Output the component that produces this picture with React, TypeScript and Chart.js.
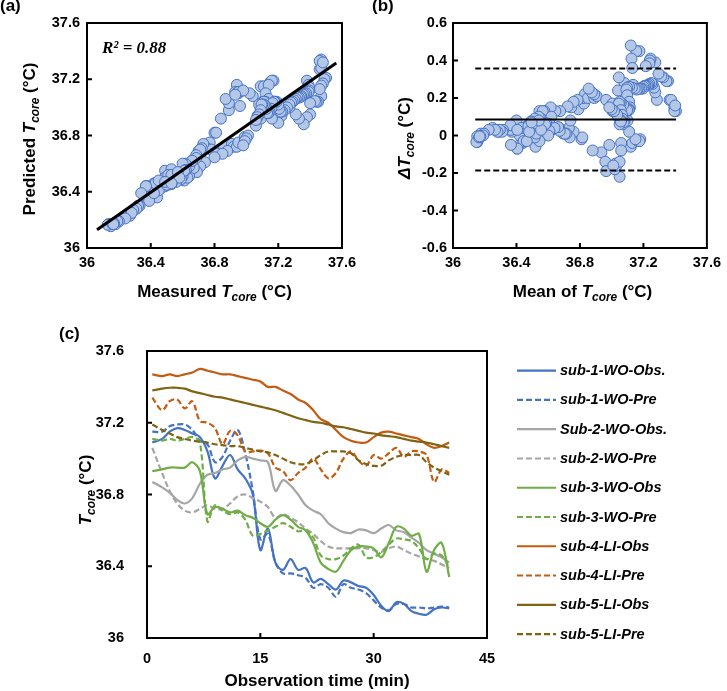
import React, { useEffect, useRef } from "react";
import { Chart, registerables } from "chart.js";

Chart.register(...registerables);

// ---------- data ----------
const minutes = [0.7, 2, 3, 4, 5, 6, 7, 8, 9, 10, 11, 12, 13, 14, 15, 16, 17, 18, 19, 20, 21, 22, 23, 24, 25, 26, 27, 28, 29, 30, 31, 32, 33, 34, 35, 36, 37, 38, 39, 40];

const sub1Obs = [37.09, 37.11, 37.15, 37.17, 37.16, 37.14, 37.12, 37.04, 36.89, 36.96, 37.02, 36.94, 36.89, 36.8, 36.49, 36.61, 36.42, 36.38, 36.44, 36.38, 36.39, 36.31, 36.33, 36.3, 36.27, 36.32, 36.31, 36.29, 36.28, 36.24, 36.18, 36.15, 36.2, 36.19, 36.15, 36.135, 36.13, 36.16, 36.17, 36.165];
const sub1Pre = [37.15, 37.15, 37.18, 37.19, 37.19, 37.16, 37.1, 37.08, 36.98, 37.01, 37.1, 37.16, 37.03, 36.82, 36.55, 36.58, 36.42, 36.36, 36.36, 36.35, 36.335, 36.28, 36.3, 36.28, 36.23, 36.3, 36.28, 36.27, 36.25, 36.21, 36.17, 36.155, 36.19, 36.19, 36.17, 36.17, 36.165, 36.17, 36.175, 36.17];
const sub2Obs = [36.87, 36.84, 36.81, 36.77, 36.75, 36.78, 36.86, 36.91, 36.92, 36.94, 36.95, 36.99, 37.01, 37.0, 36.99, 36.98, 36.82, 36.88, 36.85, 36.8, 36.74, 36.71, 36.69, 36.64, 36.61, 36.59, 36.585, 36.605, 36.6, 36.585, 36.61, 36.63, 36.6, 36.59, 36.56, 36.53, 36.49, 36.47, 36.45, 36.42];
const sub2Pre = [37.06, 36.92, 36.82, 36.75, 36.71, 36.7, 36.72, 36.74, 36.72, 36.72, 36.75, 36.79, 36.8, 36.78, 36.76, 36.73, 36.67, 36.69, 36.67, 36.645, 36.61, 36.58, 36.54, 36.51, 36.5, 36.5, 36.5, 36.5, 36.5, 36.49, 36.48, 36.5, 36.51, 36.49, 36.47, 36.455, 36.44, 36.43, 36.41, 36.39];
const sub3Obs = [36.93, 36.94, 36.95, 36.95, 36.95, 36.98, 36.93, 36.69, 36.73, 36.72, 36.7, 36.71, 36.685, 36.67, 36.64, 36.62, 36.66, 36.685, 36.66, 36.62, 36.6, 36.53, 36.42, 36.385, 36.37, 36.43, 36.49, 36.51, 36.51, 36.5, 36.45, 36.53, 36.62, 36.61, 36.57, 36.58, 36.37, 36.49, 36.53, 36.34];
const sub3Pre = [37.11, 37.1, 37.11, 37.1, 37.11, 37.12, 37.09, 36.65, 36.74, 36.71, 36.69, 36.7, 36.66, 36.57, 36.58, 36.6, 36.62, 36.64, 36.62, 36.595, 36.6, 36.56, 36.46, 36.44, 36.44, 36.46, 36.5, 36.52, 36.45, 36.45, 36.48, 36.52, 36.555, 36.55, 36.54, 36.5, 36.44, 36.47, 36.46, 36.39];
const sub4Obs = [37.47, 37.46, 37.47, 37.46, 37.47, 37.48, 37.5, 37.49, 37.48, 37.47, 37.47, 37.46, 37.45, 37.44, 37.43, 37.4, 37.4, 37.38, 37.36, 37.33, 37.31, 37.27, 37.22, 37.2, 37.16, 37.12, 37.1, 37.09, 37.09, 37.12, 37.145, 37.15, 37.14, 37.13, 37.12, 37.11, 37.08, 37.06, 37.07, 37.09];
const sub4Pre = [37.34, 37.27, 37.32, 37.33, 37.28, 37.32, 37.21, 37.2, 37.17, 37.08, 37.155, 37.13, 37.04, 37.04, 37.045, 37.03, 36.95, 36.93, 36.88, 36.92, 36.95, 37.0, 36.94, 36.89, 36.92, 37.0, 37.04, 36.99, 36.96, 37.02, 37.0, 37.03, 37.06, 37.01, 37.04, 37.04, 37.02, 36.87, 36.94, 36.92];
const sub5Obs = [37.38, 37.39, 37.395, 37.395, 37.39, 37.375, 37.365, 37.355, 37.345, 37.34, 37.33, 37.32, 37.31, 37.3, 37.29, 37.28, 37.27, 37.255, 37.24, 37.225, 37.215, 37.205, 37.2, 37.19, 37.18, 37.175, 37.165, 37.155, 37.145, 37.14, 37.13, 37.125, 37.12, 37.11, 37.1, 37.095, 37.09, 37.08, 37.07, 37.06];
const sub5Pre = [37.19, 37.16, 37.14, 37.12, 37.11, 37.1, 37.095, 37.09, 37.08, 37.075, 37.07, 37.07, 37.06, 37.05, 37.04, 37.035, 37.02, 37.0, 36.98, 36.97, 36.97, 36.99, 37.02, 37.04, 37.04, 37.04, 37.03, 36.99, 36.97, 36.96, 36.96, 36.99, 37.01, 37.02, 37.02, 37.02, 36.98, 36.95, 36.93, 36.91];

const seriesLabels = ["sub-1-WO-Obs.", "sub-1-WO-Pre", "Sub-2-WO-Obs.", "sub-2-WO-Pre", "sub-3-WO-Obs", "sub-3-WO-Pre", "sub-4-LI-Obs", "sub-4-LI-Pre", "sub-5-LI-Obs", "sub-5-LI-Pre"];
const seriesValues = [sub1Obs, sub1Pre, sub2Obs, sub2Pre, sub3Obs, sub3Pre, sub4Obs, sub4Pre, sub5Obs, sub5Pre];
const observedSeries = [sub1Obs, sub2Obs, sub3Obs, sub4Obs, sub5Obs];
const predictedSeries = [sub1Pre, sub2Pre, sub3Pre, sub4Pre, sub5Pre];

const tempTicks = [36, 36.4, 36.8, 37.2, 37.6];
const diffTicks = [-0.6, -0.4, -0.2, 0, 0.2, 0.4, 0.6];
const timeTicks = [0, 15, 30, 45];

const fitLineX = [36.063, 37.564];
const fitLineY = [36.13, 37.316];
const r2Text = "R² = 0.88";

const biasMean = 0.085;
const loaUpper = 0.357;
const loaLower = -0.187;
const blandSpanX = [36.14, 37.406];

// ---------- styles ----------
const SANS = '"Liberation Sans", Arial, Helvetica, sans-serif';
const SERIF = '"Liberation Serif", "Times New Roman", serif';
const PT_FILL = "#B4C7E7";
const PT_EDGE = "#4472C4";
const seriesColors = ["#4472C4", "#4472C4", "#A5A5A5", "#A5A5A5", "#70AD47", "#70AD47", "#C55A11", "#C55A11", "#7F6311", "#7F6311"];
const seriesDashed = [false, true, false, true, false, true, false, true, false, true];
const DASH = [6, 3];

type Run = { t: string; it?: boolean; sub?: boolean };

function drawRich(ctx: any, runs: Run[], x: number, y: number, size: number, rotate = false) {
  ctx.save();
  ctx.translate(x, y);
  if (rotate) ctx.rotate(-Math.PI / 2);
  const subSize = size * 0.7;
  const font = (r: Run) => `${r.it ? "italic " : ""}bold ${r.sub ? subSize : size}px ${SANS}`;
  const widths = runs.map((r) => {
    ctx.font = font(r);
    return ctx.measureText(r.t).width;
  });
  const total = widths.reduce((a, b) => a + b, 0);
  let cx = -total / 2;
  ctx.fillStyle = "#000";
  ctx.textAlign = "left";
  ctx.textBaseline = "alphabetic";
  runs.forEach((r, i) => {
    ctx.font = font(r);
    ctx.fillText(r.t, cx, r.sub ? size * 0.24 : 0);
    cx += widths[i];
  });
  ctx.restore();
}

function plainText(ctx: any, text: string, x: number, y: number, font: string) {
  ctx.save();
  ctx.font = font;
  ctx.fillStyle = "#000";
  ctx.textAlign = "left";
  ctx.textBaseline = "alphabetic";
  ctx.fillText(text, x, y);
  ctx.restore();
}

function decor(drawExtra: (ctx: any, chart: any) => void) {
  return {
    id: "decor",
    afterDraw(chart: any) {
      const { ctx, chartArea: a } = chart;
      const xs = chart.scales.x;
      const ys = chart.scales.y;
      ctx.save();
      ctx.strokeStyle = "#000";
      ctx.lineWidth = 2;
      ctx.setLineDash([]);
      ctx.beginPath();
      xs.ticks.forEach((t: any) => {
        const p = xs.getPixelForValue(t.value);
        if (p > a.left + 1 && p < a.right - 1) {
          ctx.moveTo(p, a.bottom);
          ctx.lineTo(p, a.bottom - 5);
        }
      });
      ys.ticks.forEach((t: any) => {
        const p = ys.getPixelForValue(t.value);
        if (p > a.top + 1 && p < a.bottom - 1) {
          ctx.moveTo(a.left, p);
          ctx.lineTo(a.left + 5, p);
        }
      });
      ctx.stroke();
      ctx.strokeRect(a.left, a.top, a.right - a.left, a.bottom - a.top);
      ctx.restore();
      drawExtra(ctx, chart);
    },
  };
}

const fmt = (v: any) => String(Math.round(Number(v) * 10) / 10);

function axis(min: number, max: number, tickValues: number[], padding: number, fitSize: number, isX: boolean) {
  return {
    type: "linear",
    min,
    max,
    afterBuildTicks: (s: any) => {
      s.ticks = tickValues.map((v) => ({ value: v }));
    },
    afterFit: (s: any) => {
      if (isX) s.height = fitSize;
      else s.width = fitSize;
    },
    grid: { display: false, drawTicks: false },
    border: { display: false },
    ticks: {
      color: "#000",
      padding,
      autoSkip: false,
      maxRotation: 0,
      font: { family: SANS, size: 14.5, weight: "bold" },
      callback: (v: any) => fmt(v),
    },
  };
}

const baseOptions = (padding: any, scales: any) => ({
  responsive: false,
  maintainAspectRatio: false,
  animation: false,
  devicePixelRatio: 1,
  events: [],
  layout: { padding },
  plugins: { legend: { display: false }, tooltip: { enabled: false }, title: { display: false } },
  scales,
});

export default function App() {
  const refA = useRef<HTMLCanvasElement>(null);
  const refB = useRef<HTMLCanvasElement>(null);
  const refC = useRef<HTMLCanvasElement>(null);

  useEffect(() => {
    // (a) measured vs predicted pairs, (b) Bland-Altman pairs, built from the series arrays
    const pairsA: any[] = [];
    const pairsB: any[] = [];
    observedSeries.forEach((obs, s) => {
      obs.forEach((o, i) => {
        const p = predictedSeries[s][i];
        pairsA.push({ x: o, y: p });
        pairsB.push({ x: (o + p) / 2, y: o - p });
      });
    });

    const chartA = new Chart(refA.current as any, {
      type: "scatter",
      data: {
        datasets: [
          {
            label: "fit",
            data: fitLineX.map((x, i) => ({ x, y: fitLineY[i] })),
            showLine: true,
            borderColor: "#000",
            borderWidth: 3,
            pointRadius: 0,
          },
          {
            label: "points",
            data: pairsA,
            backgroundColor: PT_FILL,
            borderColor: PT_EDGE,
            borderWidth: 1,
            pointRadius: 5.5,
          },
        ],
      } as any,
      options: baseOptions(
        { left: 0, top: 23, right: 21, bottom: 0 },
        { x: axis(36, 37.6, tempTicks, 6, 57, true), y: axis(36, 37.6, tempTicks, 7, 87, false) }
      ) as any,
      plugins: [
        decor((ctx) => {
          plainText(ctx, "(a)", 0, 11, `bold 17px ${SANS}`);
          plainText(ctx, r2Text, 102, 53, `italic bold 17px ${SERIF}`);
          drawRich(ctx, [{ t: "Measured " }, { t: "T", it: true }, { t: "core", it: true, sub: true }, { t: " (°C)" }], 214.5, 297, 17);
          drawRich(ctx, [{ t: "Predicted " }, { t: "T", it: true }, { t: "core", it: true, sub: true }, { t: " (°C)" }], 35, 139, 17, true);
        }),
      ],
    });

    const chartB = new Chart(refB.current as any, {
      type: "scatter",
      data: {
        datasets: [
          {
            label: "mean",
            data: blandSpanX.map((x) => ({ x, y: biasMean })),
            showLine: true,
            borderColor: "#000",
            borderWidth: 2,
            pointRadius: 0,
          },
          {
            label: "upper",
            data: blandSpanX.map((x) => ({ x, y: loaUpper })),
            showLine: true,
            borderColor: "#000",
            borderWidth: 2,
            borderDash: DASH,
            pointRadius: 0,
          },
          {
            label: "lower",
            data: blandSpanX.map((x) => ({ x, y: loaLower })),
            showLine: true,
            borderColor: "#000",
            borderWidth: 2,
            borderDash: DASH,
            pointRadius: 0,
          },
          {
            label: "points",
            data: pairsB,
            backgroundColor: PT_FILL,
            borderColor: PT_EDGE,
            borderWidth: 1,
            pointRadius: 5.5,
          },
        ],
      } as any,
      options: baseOptions(
        { left: 0, top: 23, right: 15, bottom: 0 },
        { x: axis(36, 37.6, tempTicks, 6, 57, true), y: axis(-0.6, 0.6, diffTicks, 6, 90, false) }
      ) as any,
      plugins: [
        decor((ctx) => {
          plainText(ctx, "(b)", 9, 11, `bold 17px ${SANS}`);
          drawRich(ctx, [{ t: "Mean of " }, { t: "T", it: true }, { t: "core", it: true, sub: true }, { t: " (°C)" }], 219.5, 297, 17);
          drawRich(ctx, [{ t: "Δ", it: true }, { t: "T", it: true }, { t: "core", it: true, sub: true }, { t: " (°C)" }], 47, 138, 17, true);
        }),
      ],
    });

    const chartC = new Chart(refC.current as any, {
      type: "line",
      data: {
        datasets: seriesValues.map((vals, i) => ({
          label: seriesLabels[i],
          data: vals.map((v, k) => ({ x: minutes[k], y: v })),
          borderColor: seriesColors[i],
          backgroundColor: seriesColors[i],
          borderWidth: 2.2,
          borderDash: seriesDashed[i] ? DASH : [],
          pointRadius: 0,
          tension: 0.35,
          fill: false,
          order: seriesValues.length - i,
        })),
      } as any,
      options: baseOptions(
        { left: 0, top: 46, right: 240, bottom: 0 },
        { x: axis(0, 45, timeTicks, 12, 53, true), y: axis(36, 37.6, tempTicks, 23, 147, false) }
      ) as any,
      plugins: [
        decor((ctx, chart) => {
          plainText(ctx, "(c)", 59, 34, `bold 17px ${SANS}`);
          drawRich(ctx, [{ t: "Observation time (min)" }], 317, 381, 17);
          drawRich(ctx, [{ t: "T", it: true }, { t: "core", it: true, sub: true }, { t: " (°C)" }], 91, 185, 17, true);
          ctx.save();
          chart.data.datasets.forEach((d: any, i: number) => {
            const y = 65.7 + 29.26 * i;
            ctx.strokeStyle = d.borderColor;
            ctx.lineWidth = 2.2;
            ctx.setLineDash(d.borderDash || []);
            ctx.beginPath();
            ctx.moveTo(517, y);
            ctx.lineTo(556, y);
            ctx.stroke();
            ctx.setLineDash([]);
            ctx.font = `italic bold 14.5px ${SANS}`;
            ctx.fillStyle = "#000";
            ctx.textAlign = "left";
            ctx.textBaseline = "middle";
            ctx.fillText(d.label, 560, y + 0.5);
          });
          ctx.restore();
        }),
      ],
    });

    return () => {
      chartA.destroy();
      chartB.destroy();
      chartC.destroy();
    };
  }, []);

  const cv = (left: number, top: number, w: number, h: number) => ({
    position: "absolute" as const,
    left,
    top,
    width: w,
    height: h,
    display: "block",
  });

  return (
    <div style={{ position: "absolute", left: 0, top: 0, width: 727, height: 691, background: "#fff", overflow: "hidden" }}>
      <canvas ref={refA} width={363} height={305} style={cv(0, 0, 363, 305)} />
      <canvas ref={refB} width={364} height={305} style={cv(363, 0, 364, 305)} />
      <canvas ref={refC} width={727} height={386} style={cv(0, 305, 727, 386)} />
    </div>
  );
}
